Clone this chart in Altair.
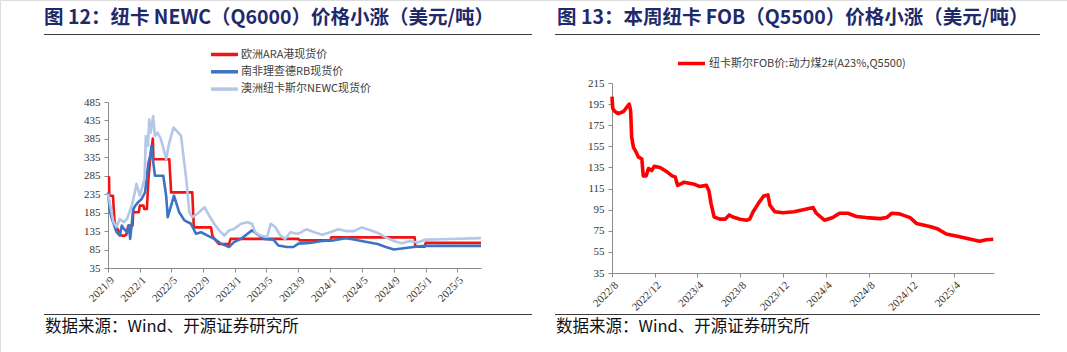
import altair as alt
import pandas as pd

# ---------------- data ----------------
series_names = ["欧洲ARA港现货价", "南非理查德RB现货价", "澳洲纽卡斯尔NEWC现货价"]
series_colors = ["#F01414", "#3C74C4", "#B4C7E7"]

ara_dates = ["2021-09-01", "2021-09-05", "2021-09-06", "2021-09-20", "2021-09-26", "2021-10-08",
             "2021-10-20", "2021-11-01", "2021-11-10", "2021-11-18", "2021-12-04", "2021-12-07",
             "2021-12-12", "2021-12-28", "2022-01-01", "2022-01-15", "2022-01-18", "2022-01-28",
             "2022-02-03", "2022-02-09", "2022-02-15", "2022-02-20", "2022-02-22", "2022-04-24",
             "2022-05-01", "2022-07-21", "2022-07-27", "2022-10-01", "2022-10-07", "2022-11-01",
             "2022-12-09", "2022-12-15", "2023-09-01", "2023-09-05", "2024-01-01", "2024-01-05",
             "2024-11-20", "2024-11-22", "2024-12-28", "2025-01-01", "2025-08-01"]
ara_vals = [281, 281, 231, 231, 160, 140, 124, 122, 125, 150, 150, 190, 186, 186, 204, 204, 195, 195,
            276, 326, 357, 386, 330, 330, 240, 240, 145, 145, 120, 100, 100, 114, 114, 110, 110, 118,
            118, 93, 93, 103, 103]

rb_dates = ["2021-09-01", "2021-09-08", "2021-09-16", "2021-09-25", "2021-10-04", "2021-10-16",
            "2021-10-24", "2021-11-01", "2021-11-13", "2021-11-20", "2021-11-25", "2021-12-07",
            "2021-12-16", "2021-12-25", "2022-01-08", "2022-01-21", "2022-02-03", "2022-02-10",
            "2022-02-15", "2022-02-20", "2022-02-28", "2022-04-01", "2022-04-12", "2022-04-18",
            "2022-05-01", "2022-05-12", "2022-06-01", "2022-06-21", "2022-07-16", "2022-08-04",
            "2022-08-24", "2022-09-18", "2022-10-13", "2022-11-08", "2022-12-09", "2022-12-28",
            "2023-01-24", "2023-02-18", "2023-03-07", "2023-03-25", "2023-04-21", "2023-05-28",
            "2023-06-16", "2023-07-19", "2023-08-13", "2023-09-01", "2023-10-15", "2023-12-01",
            "2024-01-15", "2024-03-01", "2024-04-01", "2024-05-15", "2024-07-01", "2024-08-01",
            "2024-09-01", "2024-10-01", "2024-11-15", "2025-01-01", "2025-08-01"]
rb_vals = [240, 190, 168, 150, 132, 123, 150, 141, 132, 150, 114, 195, 205, 213, 222, 240, 321, 340,
           366, 330, 285, 285, 231, 173, 204, 231, 186, 164, 155, 128, 132, 123, 114, 101, 92, 105,
           114, 128, 137, 128, 114, 112, 96, 92, 92, 101, 103, 108, 110, 116, 112, 106, 100, 92,
           85, 88, 92, 95, 95]

newc_dates = ["2021-09-01", "2021-09-10", "2021-09-22", "2021-10-04", "2021-10-16", "2021-11-01",
              "2021-11-13", "2021-12-01", "2021-12-13", "2021-12-19", "2022-01-01", "2022-01-08",
              "2022-01-19", "2022-01-24", "2022-02-01", "2022-02-06", "2022-02-12", "2022-02-21",
              "2022-02-28", "2022-03-10", "2022-03-23", "2022-04-12", "2022-04-24", "2022-05-10",
              "2022-06-08", "2022-06-28", "2022-07-10", "2022-07-21", "2022-08-10", "2022-09-06",
              "2022-09-24", "2022-10-13", "2022-11-01", "2022-11-21", "2022-12-09", "2022-12-28",
              "2023-01-24", "2023-02-18", "2023-03-07", "2023-03-19", "2023-04-08", "2023-05-04",
              "2023-05-18", "2023-06-04", "2023-06-24", "2023-07-12", "2023-08-01", "2023-08-25",
              "2023-09-08", "2023-10-01", "2023-11-01", "2023-12-01", "2024-01-01", "2024-02-01",
              "2024-03-01", "2024-04-01", "2024-05-01", "2024-06-01", "2024-07-01", "2024-08-01",
              "2024-09-01", "2024-10-01", "2024-11-01", "2024-12-01", "2025-01-01", "2025-03-01",
              "2025-08-01"]
newc_vals = [236, 204, 159, 146, 168, 159, 168, 204, 240, 263, 231, 249, 276, 393, 366, 438, 402, 447,
             393, 402, 384, 330, 375, 416, 393, 276, 186, 173, 182, 200, 177, 155, 137, 123, 137, 141,
             155, 159, 155, 132, 123, 119, 155, 146, 123, 114, 132, 128, 130, 140, 132, 125, 132, 140,
             135, 135, 145, 138, 130, 118, 108, 102, 108, 104, 112, 113, 116]

fob_name = ["纽卡斯尔FOB价:动力煤2#(A23%,Q5500)"]
fob_dates = ["2022-08-01", "2022-08-03", "2022-08-09", "2022-08-19", "2022-09-03", "2022-09-12",
             "2022-09-19", "2022-09-23", "2022-09-26", "2022-10-01", "2022-10-08", "2022-10-15",
             "2022-10-25", "2022-10-29", "2022-11-06", "2022-11-13", "2022-11-22", "2022-11-29",
             "2022-12-16", "2023-01-04", "2023-01-19", "2023-01-28", "2023-02-04", "2023-02-16",
             "2023-02-22", "2023-03-24", "2023-04-07", "2023-04-27", "2023-05-04", "2023-05-10",
             "2023-05-19", "2023-06-04", "2023-06-19", "2023-07-01", "2023-07-11", "2023-08-01",
             "2023-08-19", "2023-08-28", "2023-09-07", "2023-09-22", "2023-10-07", "2023-10-19",
             "2023-10-25", "2023-11-08", "2023-12-01", "2024-01-01", "2024-01-28", "2024-02-25",
             "2024-03-05", "2024-03-28", "2024-04-21", "2024-05-10", "2024-06-03", "2024-06-27",
             "2024-07-25", "2024-09-03", "2024-09-21", "2024-10-06", "2024-10-28", "2024-11-27",
             "2024-12-15", "2025-01-22", "2025-02-12", "2025-03-10", "2025-04-07", "2025-05-06",
             "2025-06-13", "2025-07-02", "2025-07-22"]
fob_vals = [202, 191, 188, 186, 188, 192, 195, 189, 164, 154, 150, 145, 143, 127, 127, 134, 132, 136,
            135, 131, 127, 126, 118, 120, 121, 119, 117, 118, 113, 101, 88, 86, 86, 90, 88, 86, 85, 86,
            93, 101, 108, 109, 99, 93, 92, 93, 95, 97, 91.6, 85, 87.5, 91.6, 91.6, 88.5, 87.5, 86.5,
            87.5, 91.6, 91, 87.5, 82, 79, 77, 72, 70, 68, 65, 66.5, 67]

left_ticks_y = [35, 85, 135, 185, 235, 285, 335, 385, 435, 485]
right_ticks_y = [35, 55, 75, 95, 115, 135, 155, 175, 195, 215]
left_ticks_x = [(2021, 9), (2022, 1), (2022, 5), (2022, 9), (2023, 1), (2023, 5), (2023, 9),
                (2024, 1), (2024, 5), (2024, 9), (2025, 1), (2025, 5)]
right_ticks_x = [(2022, 8), (2022, 12), (2023, 4), (2023, 8), (2023, 12), (2024, 4), (2024, 8),
                 (2024, 12), (2025, 4)]

title_left = "图 12：纽卡 NEWC（Q6000）价格小涨（美元/吨）"
title_right = "图 13：本周纽卡 FOB（Q5500）价格小涨（美元/吨）"
source_text = "数据来源：Wind、开源证券研究所"

# ---------------- frames ----------------
left_df = pd.concat([
    pd.DataFrame({"date": ara_dates, "value": ara_vals, "series": series_names[0]}),
    pd.DataFrame({"date": rb_dates, "value": rb_vals, "series": series_names[1]}),
    pd.DataFrame({"date": newc_dates, "value": newc_vals, "series": series_names[2]}),
], ignore_index=True)
right_df = pd.DataFrame({"date": fob_dates, "value": fob_vals, "series": fob_name[0]})
dummy = pd.DataFrame({"k": [0]})

def dt(y, m, d=1):
    return alt.DateTime(year=y, month=m, date=d, utc=True)

AXIS_FONT = "Times New Roman, Liberation Serif, serif"
CJK = "Noto Sans CJK SC"
WIDE_STROKE = "M-2,0H2"

def x_axis(ticks, offset):
    return alt.Axis(values=[dt(y, m) for y, m in ticks],
                    labelExpr="utcFormat(datum.value, '%Y/%-m')",
                    orient="bottom", offset=offset, title=None, grid=False,
                    labelAngle=315, labelAlign="right", labelBaseline="top",
                    labelFont=AXIS_FONT, labelFontSize=11, labelColor="#333333",
                    labelPadding=2, tickSize=4, tickColor="#8c8c8c", domainColor="#8c8c8c",
                    labelOverlap=False, labelFlush=False)

def y_axis(ticks, offset):
    return alt.Axis(values=ticks, orient="left", offset=offset, title=None, grid=False,
                    labelFont=AXIS_FONT, labelFontSize=11, labelColor="#333333",
                    labelPadding=4, tickSize=4, tickColor="#8c8c8c", domainColor="#8c8c8c",
                    labelOverlap=False, labelFlush=False)

left = alt.Chart(left_df).mark_line(strokeWidth=2.6, strokeJoin="round").encode(
    x=alt.X("date:T", scale=alt.Scale(type="utc", domain=[dt(2021, 9), dt(2025, 8)],
                                      range=[108, 481], nice=False),
            axis=x_axis(left_ticks_x, -84)),
    y=alt.Y("value:Q", scale=alt.Scale(domain=[35, 485], range=[268, 102], nice=False, zero=False),
            axis=y_axis(left_ticks_y, -108)),
    color=alt.Color("series:N", scale=alt.Scale(domain=series_names, range=series_colors),
                    legend=alt.Legend(orient="none", legendX=216, legendY=46, title=None,
                                      symbolType=WIDE_STROKE, symbolSize=182, symbolStrokeWidth=3.5,
                                      labelFont=CJK, labelFontSize=11, labelColor="#404040",
                                      labelOffset=8, rowPadding=1.3, padding=0, labelLimit=0)),
)

right = alt.Chart(right_df).mark_line(strokeWidth=3.6, strokeJoin="round").encode(
    x=alt.X("date:T", scale=alt.Scale(type="utc", domain=[dt(2022, 8), dt(2025, 7, 24)],
                                      range=[612, 994], nice=False),
            axis=x_axis(right_ticks_x, -79)),
    y=alt.Y("value:Q", scale=alt.Scale(domain=[35, 215], range=[273, 83], nice=False, zero=False),
            axis=y_axis(right_ticks_y, -612)),
    color=alt.Color("series:N", scale=alt.Scale(domain=fob_name, range=["#FF0000"]),
                    legend=alt.Legend(orient="none", legendX=676, legendY=48, title=None,
                                      symbolType="stroke", symbolSize=729, symbolStrokeWidth=3.5,
                                      labelFont=CJK, labelFontSize=11, labelColor="#404040",
                                      labelOffset=2, padding=0, labelLimit=0)),
)

def text_layer(txt, x, y, size, color, bold):
    return alt.Chart(dummy).mark_text(align="left", baseline="middle", font=CJK, fontSize=size,
                                      fontWeight="bold" if bold else "normal", color=color).encode(
        x=alt.value(x), y=alt.value(y), text=alt.value(txt))

def rule_layer(x1, x2, y, color):
    return alt.Chart(dummy).mark_rule(color=color, strokeWidth=1).encode(
        x=alt.value(x1), x2=alt.value(x2), y=alt.value(y))

decor = [
    text_layer(title_left, 44, 18, 19.5, "#1F2A6B", True),
    text_layer(title_right, 557, 18, 19.5, "#1F2A6B", True),
    rule_layer(44, 532, 34.5, "#3a3a3a"),
    rule_layer(555, 1040, 34.5, "#3a3a3a"),
    rule_layer(44, 532, 314.5, "#3a3a3a"),
    rule_layer(555, 1040, 314.5, "#3a3a3a"),
    text_layer(source_text, 45, 327, 16.5, "#111111", False),
    text_layer(source_text, 556, 327, 16.5, "#111111", False),
]

chart = alt.layer(left, right, *decor).resolve_scale(
    x="independent", y="independent", color="independent"
).properties(
    width=1067, height=352, padding=0, autosize=alt.AutoSizeParams(type="none")
).configure_view(stroke=None).configure(background="white")

chart.save("out.html", embed_options={"renderer": "svg", "actions": False})
